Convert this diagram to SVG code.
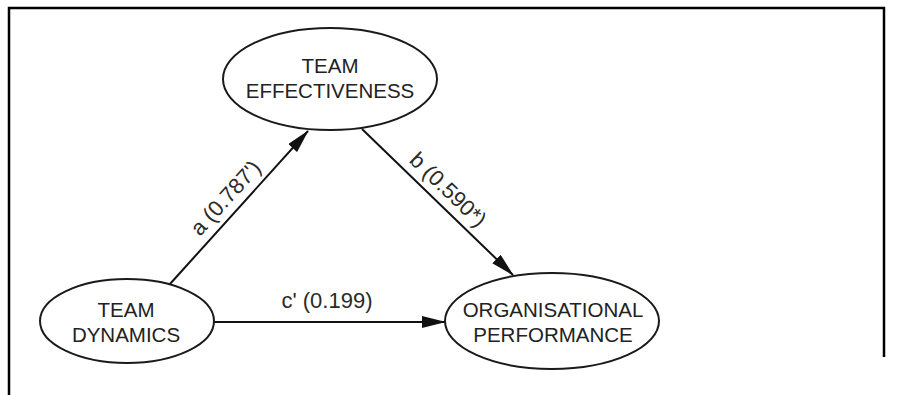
<svg xmlns="http://www.w3.org/2000/svg" width="899" height="395" viewBox="0 0 899 395">
<style>
.node ellipse{fill:#fff;stroke:#1a1a1a;stroke-width:2}
.node text{font-family:"Liberation Sans",Arial,sans-serif;font-size:20.5px;fill:#222;text-anchor:middle}
.edge line{stroke:#111;stroke-width:2;fill:none}
.lbl{font-family:"Liberation Sans",Arial,sans-serif;font-size:22px;fill:#2a2a2a;text-anchor:middle}
.frame{stroke:#000;stroke-width:2.5;fill:none}
</style>
<defs>
<marker id="ah" markerUnits="userSpaceOnUse" markerWidth="24" markerHeight="12" refX="23" refY="6" orient="auto">
<path d="M0,0 L24,6 L0,12 Z" fill="#111"/>
</marker>
</defs>
<rect width="899" height="395" fill="#fff"/>
<path class="frame" d="M9,395 L9,8 L884,8 L884,357"/>
<g id="connectors" class="edge">
<line x1="170" y1="284" x2="308" y2="131" marker-end="url(#ah)"/>
<line x1="362" y1="129" x2="513" y2="275" marker-end="url(#ah)"/>
<line x1="214" y1="322" x2="445" y2="322" marker-end="url(#ah)"/>
<text class="lbl" transform="translate(231,203) rotate(-47.6)">a (0.787')</text>
<text class="lbl" transform="translate(443,195) rotate(43.8)">b (0.590*)</text>
<text class="lbl" x="327" y="308">c' (0.199)</text>
</g>
<g id="team-effectiveness" class="node">
<ellipse cx="330" cy="79" rx="107" ry="51"/>
<text x="330" y="73">TEAM</text>
<text x="330" y="98">EFFECTIVENESS</text>
</g>
<g id="team-dynamics" class="node">
<ellipse cx="127" cy="321" rx="87" ry="42"/>
<text x="126" y="317">TEAM</text>
<text x="126" y="342">DYNAMICS</text>
</g>
<g id="organisational-performance" class="node">
<ellipse cx="552" cy="321" rx="107" ry="48"/>
<text x="553" y="317">ORGANISATIONAL</text>
<text x="553" y="342">PERFORMANCE</text>
</g>
</svg>
